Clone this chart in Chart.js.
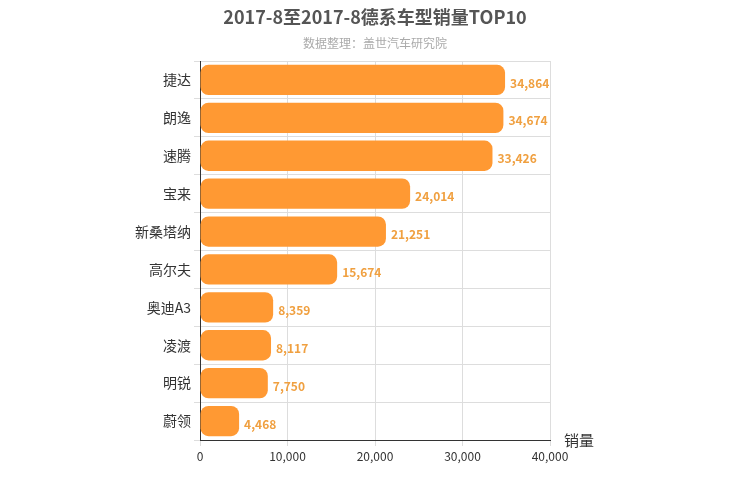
<!DOCTYPE html><html><head><meta charset="utf-8">
<script src="https://cdn.jsdelivr.net/npm/chart.js@4/dist/chart.umd.min.js"></script>
<style>body{margin:0;background:#fff}</style></head><body>
<canvas id="c" width="750" height="500"></canvas>
<script>
const categories=["捷达","朗逸","速腾","宝来","新桑塔纳","高尔夫","奥迪A3","凌渡","明锐","蔚领"];
const sales=[34864,34674,33426,24014,21251,15674,8359,8117,7750,4468];
const xTicks=[0,10000,20000,30000,40000];
const F="'Noto Sans CJK SC','Noto Sans',sans-serif";
const deco={id:'deco',afterDraw(ch){const c=ch.ctx;c.save();
c.textAlign='center';c.fillStyle='#555';c.font='bold 18px '+F;c.fillText('2017-8至2017-8德系车型销量TOP10',375,24);
c.fillStyle='#aaa';c.font='12px '+F;c.fillText('数据整理：盖世汽车研究院',375,48);
c.fillStyle='#333';c.font='15px '+F;c.textAlign='left';c.fillText('销量',564,446);
const m=ch.getDatasetMeta(0);c.fillStyle='#F0A040';c.font='bold 12px '+F;c.textBaseline='middle';
m.data.forEach((b,i)=>c.fillText(sales[i].toLocaleString('en-US'),b.x+5,b.y+3));
c.restore();}};
new Chart(document.getElementById('c'),{type:'bar',
data:{labels:categories,datasets:[{data:sales,backgroundColor:'#FF9933',borderRadius:8,borderSkipped:false,barPercentage:0.8,categoryPercentage:1}]},
options:{indexAxis:'y',responsive:false,animation:false,
layout:{padding:{left:0,right:200,top:61,bottom:30}},
plugins:{legend:{display:false},tooltip:{enabled:false}},
scales:{x:{min:0,max:40000,afterBuildTicks:s=>{s.ticks=xTicks.map(v=>({value:v}))},
ticks:{color:'#333',font:{size:12,family:F},callback:v=>v.toLocaleString('en-US')},
grid:{color:'#ddd',tickLength:6},border:{color:'#333'},afterFit:s=>{s.height=30}},
y:{afterFit:s=>{s.width=200},ticks:{color:'#333',font:{size:14,family:F}},grid:{color:'#ddd',offset:true,drawTicks:true,tickLength:6},border:{color:'#333'}}}},
plugins:[deco]});
</script></body></html>
